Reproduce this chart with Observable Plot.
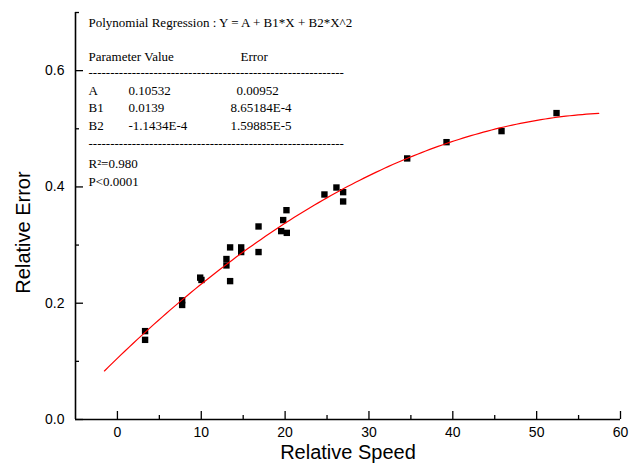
<!DOCTYPE html>
<html>
<head>
<meta charset="utf-8">
<script src="https://cdn.jsdelivr.net/npm/d3@7"></script>
<script src="https://cdn.jsdelivr.net/npm/@observablehq/plot@0.6"></script>
<style>
  html, body { margin: 0; padding: 0; background: #fff; }
  svg { display: block; }
</style>
</head>
<body>
<div id="chart"></div>
<script>
// ---- data ----
const speed = [3.30, 3.30, 7.72, 7.72, 9.87, 10.02, 13.0, 13.0, 13.44, 13.44, 14.76, 14.76, 16.83, 16.83,
               20.16, 19.77, 19.53, 20.2, 24.69, 26.12, 26.92, 26.92, 34.56, 39.25, 45.81, 52.37];
const relError = [0.152, 0.137, 0.205, 0.197, 0.244, 0.240, 0.276, 0.265, 0.296, 0.238, 0.296, 0.288, 0.332, 0.288,
                  0.360, 0.343, 0.324, 0.321, 0.387, 0.399, 0.391, 0.375, 0.449, 0.477, 0.496, 0.527];

const xTickValues = [0, 10, 20, 30, 40, 50, 60];
const xMinorTicks = [5, 15, 25, 35, 45, 55];
const yTickValues = [0.0, 0.2, 0.4, 0.6];
const yMinorTicks = [0.1, 0.3, 0.5, 0.7];
const xDomain = [-5, 60];
const yDomain = [0, 0.7];

// fitted polynomial (coefficients as printed in the chart)
const coefA = 0.10532, coefB1 = 0.0139, coefB2 = -1.1434e-4;
const fitRange = [-1.55, 57.4];

const xTitle = "Relative Speed";
const yTitle = "Relative Error";
const headerLine = "Polynomial Regression : Y = A + B1*X + B2*X^2";
const paramHeader = ["Parameter Value", "Error"];
const paramNames = ["A", "B1", "B2"];
const paramValues = ["0.10532", "0.0139", "-1.1434E-4"];
const paramErrors = ["0.00952", "8.65184E-4", "1.59885E-5"];
const statsLines = ["R\u00B2=0.980", "P<0.0001"];

// ---- layout ----
const W = 631, H = 463;
const ML = 75, MR = 11, MT = 12, MB = 44;
const plotW = W - ML - MR, plotH = H - MT - MB;
const serif = "'Liberation Serif', 'Times New Roman', serif";
const sans = "'Liberation Sans', Arial, sans-serif";

const points = speed.map((x, i) => ({x, y: relError[i]}));
const curve = d3.range(0, 121).map(i => {
  const x = fitRange[0] + (fitRange[1] - fitRange[0]) * i / 120;
  return {x, y: coefA + coefB1 * x + coefB2 * x * x};
});

function note(text, left, baseline, opts = {}) {
  return Plot.text([text], {
    text: d => d, frameAnchor: "top-left", dx: left - ML, dy: baseline - MT,
    lineAnchor: "bottom", textAnchor: "start", fontFamily: serif, fontSize: 13, fill: "black", ...opts
  });
}
const dashes = "-".repeat(59);

const chart = Plot.plot({
  width: W, height: H,
  marginLeft: ML, marginRight: MR, marginTop: MT, marginBottom: MB,
  style: {fontFamily: sans, fontSize: "14px", color: "black", background: "white"},
  x: {domain: xDomain, label: null},
  y: {domain: yDomain, label: null},
  marks: [
    // axis labels (no tick lines; ticks drawn inward below)
    Plot.axisX(xTickValues, {tickSize: 0, tickPadding: 8, fontSize: 14, label: null}),
    Plot.axisY(yTickValues, {tickSize: 0, tickPadding: 11, fontSize: 14, label: null, tickFormat: d3.format(".1f")}),
    // inward ticks
    Plot.tickX(xTickValues, {x: d => d, insetTop: plotH - 8, stroke: "black", strokeWidth: 1.3}),
    Plot.tickX(xMinorTicks, {x: d => d, insetTop: plotH - 4, stroke: "black", strokeWidth: 1.3}),
    Plot.tickY(yTickValues, {y: d => d, insetRight: plotW - 8, stroke: "black", strokeWidth: 1.3}),
    Plot.tickY(yMinorTicks, {y: d => d, insetRight: plotW - 4, stroke: "black", strokeWidth: 1.3}),
    // axis lines
    Plot.ruleX([xDomain[0]], {stroke: "black", strokeWidth: 1.6}),
    Plot.ruleY([yDomain[0]], {stroke: "black", strokeWidth: 1.6}),
    // data
    Plot.dot(points, {x: "x", y: "y", symbol: "square", fill: "black", stroke: "none", r: 3.6}),
    Plot.line(curve, {x: "x", y: "y", stroke: "#ff0000", strokeWidth: 1.2}),
    // axis titles
    Plot.text([xTitle], {text: d => d, frameAnchor: "bottom", dy: 458.5 - (H - MB), lineAnchor: "bottom",
      fontSize: 20, fontFamily: sans, fill: "black"}),
    Plot.text([yTitle], {text: d => d, frameAnchor: "left", dx: 23 - ML, dy: 232 - (MT + plotH / 2), rotate: -90,
      lineAnchor: "middle", textAnchor: "middle", fontSize: 20, fontFamily: sans, fill: "black"}),
    // regression box
    note(headerLine, 88, 26),
    note(paramHeader[0], 88, 60),
    note(paramHeader[1], 240, 60),
    note(dashes, 88, 76),
    note(paramNames[0], 88, 94), note(paramValues[0], 128, 94), note(paramErrors[0], 236, 94),
    note(paramNames[1], 88, 111.5), note(paramValues[1], 128, 111.5), note(paramErrors[1], 230, 111.5),
    note(paramNames[2], 88, 129), note(paramValues[2], 128, 129), note(paramErrors[2], 230, 129),
    note(dashes, 88, 147),
    note(statsLines[0], 88, 167),
    note(statsLines[1], 88, 185)
  ]
});
document.getElementById("chart").appendChild(chart);
</script>
</body>
</html>
